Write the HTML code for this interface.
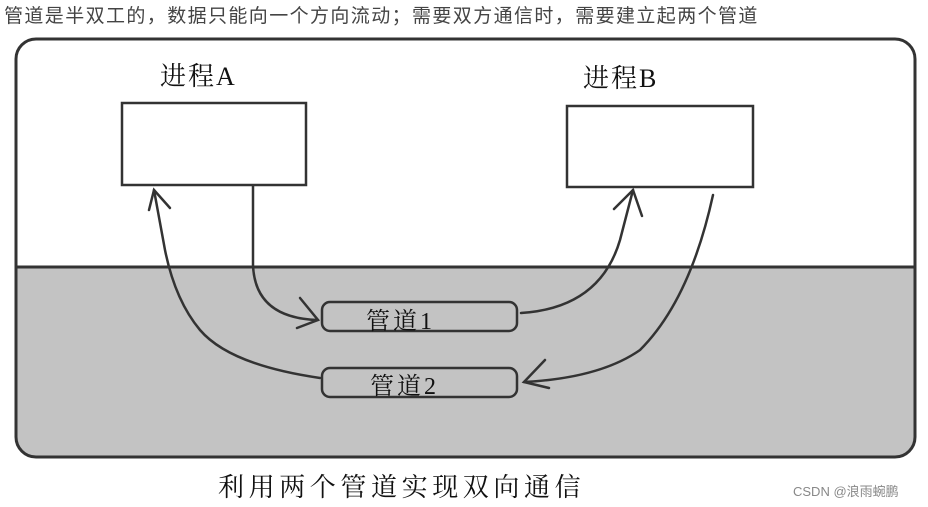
<!DOCTYPE html>
<html><head><meta charset="utf-8"><style>
html,body{margin:0;padding:0;background:#fff;width:928px;height:507px;overflow:hidden}
</style></head><body>
<svg width="928" height="507" xmlns="http://www.w3.org/2000/svg">
<defs><clipPath id="c"><rect x="16" y="39" width="899" height="418" rx="20"/></clipPath></defs>
<text x="4" y="22" font-family="Liberation Sans, Noto Sans CJK SC, sans-serif" font-size="19" letter-spacing="1.4" fill="#444">管道是半双工的，数据只能向一个方向流动；需要双方通信时，需要建立起两个管道</text>
<g clip-path="url(#c)"><rect x="0" y="267" width="928" height="200" fill="#c3c3c3"/></g>
<line x1="16" y1="267" x2="915" y2="267" stroke="#333" stroke-width="3"/>
<rect x="16" y="39" width="899" height="418" rx="20" fill="none" stroke="#333" stroke-width="3"/>
<rect x="122" y="103" width="184" height="82" fill="#fff" stroke="#333" stroke-width="2.5"/>
<rect x="567" y="106" width="186" height="81" fill="#fff" stroke="#333" stroke-width="2.5"/>
<rect x="322" y="302" width="195" height="29" rx="8" fill="#c3c3c3" stroke="#333" stroke-width="2.5"/>
<rect x="322" y="368" width="195" height="29" rx="8" fill="#c3c3c3" stroke="#333" stroke-width="2.5"/>
<g font-family="Liberation Serif, Noto Serif CJK SC, serif" font-size="26" fill="#111">
<text x="160" y="85" letter-spacing="2">进程A</text>
<text x="583" y="87" letter-spacing="2">进程B</text>
<text x="218" y="496" font-size="26" letter-spacing="4.6">利用两个管道实现双向通信</text>
<text x="366" y="329" font-size="24" letter-spacing="3">管道1</text>
<text x="370" y="394" font-size="24" letter-spacing="3">管道2</text>
</g>
<g fill="none" stroke="#333" stroke-width="2.5" stroke-linecap="round">
<path d="M253 186 L253 265 Q255 318 318 320"/>
<path d="M300 298 L318 320 L297 328"/>
<path d="M521 313 Q600 308 620 240 L633 190"/>
<path d="M614 209 L633 190 L642 216"/>
<path d="M713 195 Q690 300 640 350 Q600 378 524 382"/>
<path d="M545 360 L524 382 L549 388"/>
<path d="M320 378 Q230 365 200 330 Q175 300 165 250 L154 190"/>
<path d="M149 210 L154 190 L170 208"/>
</g>
<text x="793" y="496" font-family="Liberation Sans, Noto Sans CJK SC, sans-serif" font-size="13" fill="#888">CSDN @浪雨蜿鹏</text>
</svg>
</body></html>
